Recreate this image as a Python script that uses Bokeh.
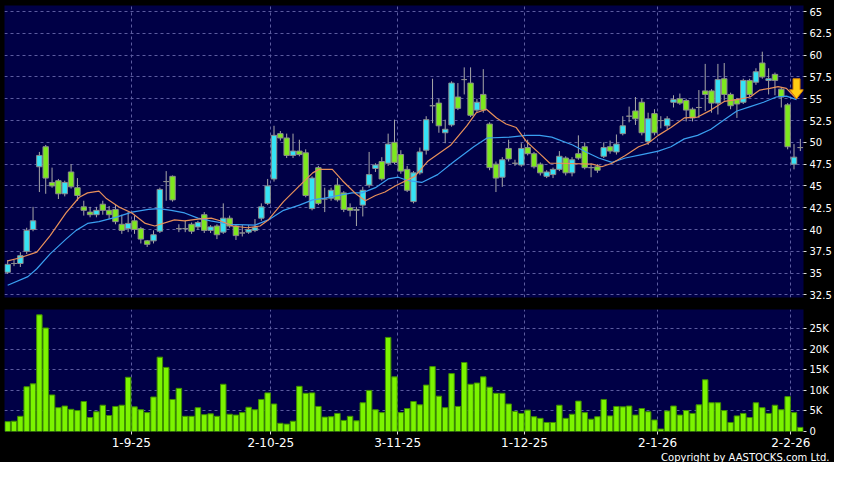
from bokeh.plotting import figure
from bokeh.layouts import column
from bokeh.models import Range1d, FixedTicker, Title, ColumnDataSource
from bokeh.embed import file_html
from bokeh.resources import INLINE

# ---------------- data ----------------
opens = [35.1, 36.1, 36.1, 37.5, 40.0, 47.2, 49.5, 45.4, 45.6, 44.1,
         46.6, 44.8, 42.6, 42.0, 41.7, 42.9, 42.2, 42.3, 40.6, 40.1,
         41.0, 40.1, 38.7, 38.7, 39.8, 45.5, 46.1, 40.1, 40.1, 40.6,
         40.3, 41.7, 39.9, 40.4, 39.7, 41.3, 40.4, 39.6, 39.7, 39.9,
         41.3, 43.0, 45.8, 51.0, 50.5, 48.5, 49.0, 48.8, 42.4, 47.1,
         43.5, 43.6, 45.1, 44.2, 42.5, 42.2, 42.8, 45.1, 47.0, 47.8,
         47.6, 50.0, 48.6, 46.9, 43.2, 46.5, 49.1, 54.2, 54.5, 51.1,
         52.0, 55.2, 57.2, 56.8, 53.7, 55.5, 52.1, 47.5, 46.0, 49.3,
         47.6, 47.4, 49.4, 48.7, 47.5, 46.1, 46.3, 46.9, 48.2, 46.5,
         48.7, 49.5, 47.1, 47.2, 48.4, 49.5, 48.9, 51.0, 53.0, 53.6,
         54.6, 50.1, 53.3, 52.5, 51.9, 54.6, 55.0, 54.8, 53.8, 54.0,
         55.9, 55.9, 54.5, 57.3, 55.5, 54.9, 54.6, 57.1, 56.9, 59.1,
         57.1, 57.8, 56.1, 54.3, 47.5, 49.4]
highs = [36.5, 36.5, 37.4, 40.2, 42.6, 48.9, 49.7, 47.1, 45.8, 45.6,
         47.5, 45.9, 43.3, 42.6, 42.6, 43.3, 42.7, 42.8, 41.7, 42.0,
         41.6, 40.3, 38.8, 39.9, 44.8, 46.7, 46.2, 40.6, 41.0, 40.8,
         41.0, 42.0, 40.5, 40.6, 43.0, 41.6, 40.6, 40.5, 40.5, 41.2,
         43.0, 45.8, 51.9, 51.3, 51.0, 51.0, 50.3, 49.2, 46.1, 47.3,
         44.8, 44.8, 45.9, 44.4, 43.0, 42.6, 44.9, 48.9, 47.6, 48.3,
         51.0, 52.6, 49.1, 47.3, 46.7, 49.4, 53.0, 57.3, 55.0, 52.6,
         57.0, 56.8, 58.6, 58.6, 55.0, 58.4, 52.3, 47.8, 48.3, 50.3,
         48.0, 49.9, 50.3, 48.9, 47.7, 46.8, 47.1, 49.0, 48.4, 48.3,
         50.8, 50.0, 47.6, 47.5, 50.0, 50.2, 50.9, 53.0, 54.1, 55.2,
         55.0, 53.4, 53.8, 53.0, 53.0, 55.4, 55.6, 55.0, 54.0, 56.0,
         59.0, 56.1, 59.0, 59.1, 55.7, 55.1, 57.3, 57.3, 58.5, 60.4,
         58.5, 58.0, 56.3, 54.5, 49.8, 50.4]
lows = [34.9, 35.8, 35.7, 37.2, 39.8, 44.3, 44.1, 44.8, 43.5, 43.8,
        44.7, 43.3, 41.6, 41.4, 41.4, 41.7, 41.2, 40.6, 39.5, 39.7,
        39.5, 38.4, 38.0, 38.4, 39.6, 43.3, 43.2, 39.7, 39.7, 39.5,
        40.0, 39.6, 39.6, 38.9, 39.5, 40.2, 38.8, 39.2, 39.5, 39.7,
        41.0, 42.8, 45.5, 50.2, 48.2, 48.2, 48.4, 43.7, 42.2, 42.8,
        42.0, 43.3, 43.2, 42.0, 41.5, 40.4, 41.5, 44.8, 46.6, 45.6,
        47.3, 47.5, 46.4, 44.3, 43.0, 46.3, 48.6, 52.2, 51.1, 49.9,
        51.8, 53.7, 55.5, 52.9, 53.4, 53.4, 46.8, 44.3, 44.9, 47.8,
        47.3, 47.2, 48.5, 47.0, 46.2, 45.9, 45.9, 46.7, 46.2, 46.1,
        48.0, 46.9, 46.0, 46.5, 48.2, 48.7, 48.6, 50.8, 52.3, 52.0,
        50.8, 49.7, 50.8, 51.6, 51.5, 54.0, 54.3, 52.4, 52.4, 52.8,
        53.6, 53.4, 53.2, 54.8, 53.8, 52.8, 54.4, 55.2, 56.6, 57.3,
        55.5, 55.4, 54.0, 49.2, 46.9, 49.0]
closes = [36.0, 36.1, 37.0, 39.9, 41.0, 48.5, 45.9, 45.0, 44.1, 45.4,
          44.9, 43.9, 42.2, 41.7, 42.2, 42.2, 41.7, 40.9, 39.9, 40.7,
          40.0, 38.9, 38.3, 39.4, 44.6, 45.5, 43.4, 40.1, 40.1, 39.8,
          40.8, 39.9, 40.3, 39.4, 41.3, 40.4, 39.3, 39.6, 40.0, 40.2,
          42.6, 45.0, 50.8, 50.5, 48.5, 49.0, 48.6, 43.9, 45.9, 43.0,
          43.5, 44.5, 43.4, 42.3, 42.2, 42.3, 44.5, 46.3, 47.4, 45.8,
          49.8, 47.7, 46.7, 44.5, 46.5, 48.9, 52.6, 54.2, 51.9, 51.5,
          56.8, 53.9, 57.2, 53.1, 54.6, 53.7, 47.1, 45.9, 48.0, 48.1,
          47.6, 49.3, 48.7, 47.2, 46.5, 46.6, 46.9, 48.4, 46.5, 48.0,
          48.2, 47.1, 47.1, 46.8, 49.4, 49.0, 49.8, 51.9, 53.0, 52.7,
          51.1, 52.7, 51.1, 52.5, 52.7, 54.9, 54.5, 53.7, 52.8, 54.0,
          55.5, 54.5, 57.2, 55.5, 54.2, 54.4, 57.1, 55.5, 58.1, 57.5,
          57.3, 57.1, 55.2, 49.5, 48.3, 49.4]
volume_k = [2.4, 2.5, 3.7, 10.9, 11.6, 28.4, 25.2, 8.9, 5.8, 6.2,
            5.4, 5.1, 7.3, 3.4, 4.8, 6.4, 3.9, 6.1, 6.4, 13.2,
            6.0, 5.3, 4.6, 8.4, 18.1, 15.6, 7.8, 10.5, 3.7, 3.7,
            5.8, 4.1, 4.3, 3.7, 11.5, 4.2, 4.0, 4.6, 5.9, 5.3,
            7.8, 9.4, 6.7, 2.0, 1.8, 2.5, 11.0, 9.3, 9.4, 6.1,
            3.5, 3.6, 4.4, 2.7, 3.7, 2.6, 7.0, 10.0, 5.3, 4.6,
            22.9, 13.3, 4.6, 5.6, 7.3, 6.5, 11.3, 15.8, 8.6, 5.8,
            14.1, 6.1, 16.8, 11.5, 11.8, 13.3, 10.8, 9.3, 9.3, 6.7,
            4.9, 4.4, 5.2, 3.6, 3.2, 2.2, 2.2, 6.4, 3.2, 4.2,
            7.4, 4.6, 3.0, 3.6, 7.8, 3.8, 6.1, 6.0, 6.2, 4.0,
            5.6, 4.8, 2.8, 0.6, 5.0, 6.2, 4.0, 5.1, 4.4, 6.5,
            12.6, 7.0, 7.0, 5.1, 2.2, 3.8, 4.4, 3.4, 7.0, 5.8,
            4.4, 6.4, 5.3, 8.5, 4.6, 1.0]

# moving averages at these bar positions
ma_short_x = [0, 1.7, 4.6, 6.7, 9.2, 11.3, 12.6, 14.4, 15.5, 17.5, 19.6, 21.7, 23.2,
              26.3, 27.9, 30, 32.1, 33.5, 35.5, 37.8, 39.8, 41.1, 43.5, 46, 48.1,
              49.1, 51.2, 52.8, 54.9, 56.4, 58, 59.5, 61.1, 64.2, 66.2, 69.9, 72.4,
              73.9, 75.5, 77.1, 78.6, 80.2, 81.8, 83.9, 85.5, 87, 92.2, 93.7, 95.3,
              97.4, 99.5, 101, 102.6, 104.6, 106.7, 108.8, 110.9, 113, 115, 117.1,
              118.6, 120.2, 121.5, 122.8, 124.4]
ma_short_y = [36.4, 36.7, 37.4, 39.3, 41.9, 43.7, 44.2, 44.4, 43.6, 42.6, 41.9, 40.7, 40.4,
              41.1, 41.0, 41.2, 41.3, 41.0, 40.4, 40.2, 40.4, 41.1, 43.2, 45.0, 46.5,
              46.9, 46.9, 45.6, 44.1, 43.3, 43.9, 44.3, 45.0, 46.1, 47.8, 49.7, 51.9,
              53.4, 53.8, 52.8, 52.1, 51.7, 50.1, 48.7, 47.6, 47.6, 47.5, 47.2, 47.6,
              48.5, 49.5, 49.9, 50.8, 51.7, 52.8, 52.9, 53.7, 54.7, 54.9, 55.2,
              56.0, 56.2, 56.4, 56.2, 55.0]
ma_long_x = [0, 3.2, 4.6, 6.7, 9.2, 10.8, 12.6, 14.4, 17, 19.6, 22.2, 23.8, 25.8, 27.9,
             30, 32, 35, 39, 41.1, 43.5, 46, 48.1, 50, 54.3, 55.9, 58, 60, 61.6, 63.2,
             65.3, 67.8, 70.4, 73.5, 75.6, 79.2, 81.8, 83.9, 85.8, 89.1, 91.2, 93.2,
             95.3, 97.4, 100, 102.6, 104.6, 106.7, 108.8, 110.9, 113, 115, 117.1,
             119.2, 121.2, 122.8, 124.4]
ma_long_y = [33.6, 34.6, 35.5, 37.2, 38.9, 39.9, 40.7, 40.9, 41.4, 42.0, 42.3, 42.4, 42.2, 41.9,
             41.3, 41.0, 40.6, 40.5, 41.1, 42.2, 42.8, 43.4, 43.6, 44.2, 44.2, 44.8, 45.8, 46.0, 45.6,
             45.4, 46.3, 47.8, 49.5, 50.5, 50.6, 50.8, 50.8, 50.6, 49.7, 48.9, 48.2,
             47.7, 48.2, 48.6, 49.0, 49.5, 50.4, 50.8, 51.5, 52.6, 53.6, 54.1,
             54.6, 55.2, 55.3, 54.9]

date_labels = ["1-9-25", "2-10-25", "3-11-25", "1-12-25", "2-1-26", "2-2-26"]
date_bar_index = [19, 41, 61, 81, 102, 123]
price_ticks = [32.5, 35, 37.5, 40, 42.5, 45, 47.5, 50, 52.5, 55, 57.5, 60, 62.5, 65]
price_tick_labels = ["32.5", "35", "37.5", "40", "42.5", "45", "47.5", "50", "52.5",
                     "55", "57.5", "60", "62.5", "65"]
vol_ticks = [0, 5, 10, 15, 20, 25]
vol_tick_labels = ["0", "5K", "10K", "15K", "20K", "25K"]

# ---------------- styling / geometry ----------------
NAVY = "#000046"
UP = "#35e3f5"
DOWN = "#7de81e"
FLAT = "#9a9a9a"
GRID = "#5c5ca0"
FONT = "DejaVu Sans"
W = 834
BL, BR = 4, 28
P_TOP, P_FRAME, P_BOT = 5, 292, 12
V_H = 153
Y_LO, Y_HI = 32.2, 65.7

n = len(closes)
xs = list(range(n))
body_top = [max(o, c) for o, c in zip(opens, closes)]
body_bot = [min(o, c) for o, c in zip(opens, closes)]
body_col = [UP if c > o else (DOWN if c < o else FLAT) for o, c in zip(opens, closes)]
src = ColumnDataSource(dict(x=xs, o=opens, h=highs, l=lows, c=closes,
                            top=body_top, bot=body_bot, col=body_col, v=volume_k))

x_rng = Range1d(-0.5, n - 0.5)
tick_pos = [i + 0.5 for i in date_bar_index]

# ---------------- price panel ----------------
p = figure(width=W, height=P_TOP + P_FRAME + P_BOT, x_range=x_rng, y_range=Range1d(Y_LO, Y_HI),
           output_backend="svg", toolbar_location=None, y_axis_location="right",
           x_axis_location=None, min_border_left=BL, min_border_right=BR,
           min_border_top=P_TOP, min_border_bottom=P_BOT,
           background_fill_color=NAVY, border_fill_color="black", outline_line_color=None)

p.segment(x0="x", y0="l", x1="x", y1="h", source=src, line_color="#a8a8a8", line_width=1)
p.vbar(x="x", top="top", bottom="bot", width=0.86, source=src,
       fill_color="col", line_color="#8c8c8c", line_width=1)
p.line(ma_long_x, ma_long_y, line_color="#3a9ff0", line_width=1.2)
p.line(ma_short_x, ma_short_y, line_color="#e8905a", line_width=1.2)

# "latest" marker: block arrow pointing at the end of the short moving average
px_per_bar = (W - BL - BR) / n
px_per_unit = P_FRAME / (Y_HI - Y_LO)
arrow_dx = [0, -7, -3.5, -3.5, 3.5, 3.5, 7]
arrow_dy = [0, 9, 9, 20, 20, 9, 9]
tip_x, tip_y = ma_short_x[-1], ma_short_y[-1]
p.patch([tip_x + d / px_per_bar for d in arrow_dx],
        [tip_y + d / px_per_unit for d in arrow_dy],
        fill_color="#ffcc14", line_color="#d98200", line_width=1)

p.yaxis.ticker = FixedTicker(ticks=price_ticks)
p.yaxis.major_label_overrides = {t: s for t, s in zip(price_ticks, price_tick_labels)}
p.xgrid.ticker = FixedTicker(ticks=tick_pos)

# ---------------- volume panel ----------------
v = figure(width=W, height=V_H, x_range=x_rng, y_range=Range1d(0, 29.7),
           output_backend="svg", toolbar_location=None, y_axis_location="right",
           min_border_left=BL, min_border_right=BR, min_border_top=0, min_border_bottom=0,
           background_fill_color=NAVY, border_fill_color="black", outline_line_color=None)
v.vbar(x="x", top="v", bottom=0, width=0.86, source=src,
       fill_color="#7cf400", line_color="#3f8f00", line_width=1)
v.yaxis.ticker = FixedTicker(ticks=vol_ticks)
v.yaxis.major_label_overrides = {t: s for t, s in zip(vol_ticks, vol_tick_labels)}
v.xaxis.ticker = FixedTicker(ticks=tick_pos)
v.xaxis.major_label_overrides = {t: s for t, s in zip(tick_pos, date_labels)}
v.xgrid.ticker = FixedTicker(ticks=tick_pos)
v.add_layout(Title(text="Copyright by AASTOCKS.com Ltd.", align="right", text_color="white",
                   text_font_size="10px", text_font=FONT, text_font_style="normal",
                   offset=-26, standoff=0), "below")

for fig in (p, v):
    for g in (fig.xgrid, fig.ygrid):
        g.grid_line_color = GRID
        g.grid_line_dash = "3 3"
        g.grid_line_width = 1
    for ax in fig.axis:
        ax.axis_line_color = None
        ax.major_tick_line_color = "#dddddd"
        ax.major_tick_out = 3
        ax.major_tick_in = 0
        ax.minor_tick_line_color = None
        ax.major_label_text_color = "white"
        ax.major_label_text_font = FONT
        ax.major_label_text_font_style = "normal"
    for ax in fig.yaxis:
        ax.major_label_text_font_size = "10px"
        ax.major_label_standoff = 3
v.xaxis.major_label_text_font_size = "12px"
v.xaxis.major_label_standoff = 3

layout = column(p, v, spacing=0)
layout.styles = {"background-color": "black"}
open("out.html", "w").write(file_html(layout, INLINE))
